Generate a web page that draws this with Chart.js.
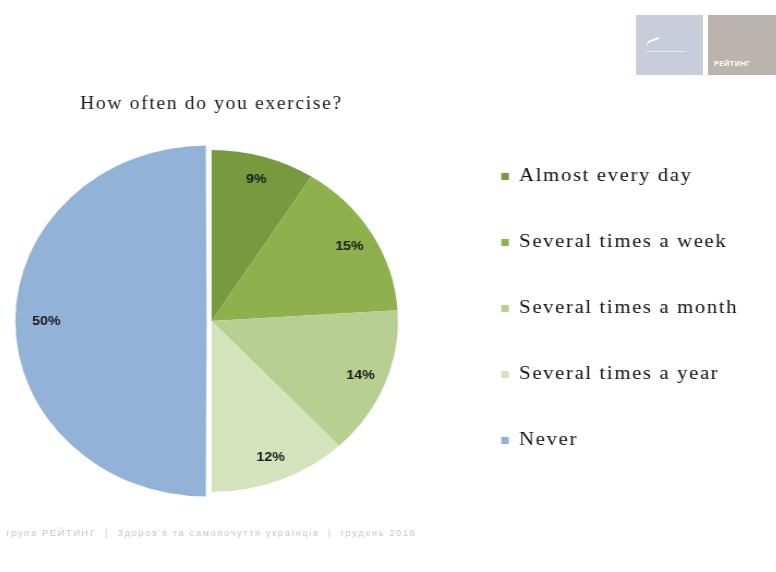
<!DOCTYPE html>
<html>
<head>
<meta charset="utf-8">
<script src="https://cdn.jsdelivr.net/npm/chart.js@4.4.1/dist/chart.umd.min.js"></script>
<style>
  html, body { margin: 0; padding: 0; background: #fff; }
  #page { position: relative; width: 776px; height: 572px; overflow: hidden; background: #fff; }
  #exercise { position: absolute; left: -26.8px; top: 0; transform: scaleX(1.09); transform-origin: 0 0; }
  .logo { position: absolute; top: 15px; height: 60px; }
  #logo1 { left: 636px; width: 67px; background: #c9cdd9; }
  #logo2 { left: 708px; width: 68px; background: #bab3ae; }
  #logo1 span { position: absolute; left: 10px; top: 24px; width: 14px; height: 3px; border-top: 2px solid #fff; border-radius: 8px 0 0 0; transform: rotate(-20deg); }
  #logo1 i { position: absolute; left: 10px; top: 36px; width: 40px; height: 1px; background: #e6e8ee; }
  #logo2 b { position: absolute; left: 6px; bottom: 8px; font: bold 7px "Liberation Sans", Arial, sans-serif; color: #fff; letter-spacing: 0.5px; }
</style>
</head>
<body>
<div id="page">
  <div class="logo" id="logo1"><span></span><i></i></div>
  <div class="logo" id="logo2"><b>РЕЙТИНГ</b></div>
  <canvas id="exercise" width="737" height="572"></canvas>
</div>
<script>
// answers, in the order they go round the pie from 12 o'clock
const categories = ['Almost every day', 'Several times a week', 'Several times a month', 'Several times a year', 'Never'];
const shares = [9, 15, 14, 12, 50];
const chartTitle = 'How often do you exercise?';
const footerText = 'група РЕЙТИНГ  |  Здоров\'я та самопочуття українців  |  грудень 2016';

const sliceColors = ['#789a3f', '#8eb14e', '#b7cf91', '#d5e3bd', '#93b2d8'];

// wide text like the slide
const spacing = {
  id: 'spacing',
  beforeUpdate(chart) { chart.ctx.letterSpacing = '1.5px'; },
  beforeDraw(chart) { chart.ctx.letterSpacing = '1.5px'; }
};

// percentage labels inside the slices
const pctLabels = {
  id: 'pctLabels',
  afterDatasetsDraw(chart) {
    const ctx = chart.ctx;
    const meta = chart.getDatasetMeta(0);
    ctx.save();
    ctx.letterSpacing = '0px';
    ctx.font = 'bold 13px "Liberation Sans", Arial, sans-serif';
    ctx.fillStyle = '#1a1a1a';
    ctx.textAlign = 'center';
    ctx.textBaseline = 'middle';
    meta.data.forEach((arc, i) => {
      const mid = (arc.startAngle + arc.endAngle) / 2;
      const off = (arc.options.offset || 0) / 4;
      const r = arc.outerRadius * 0.86 + off;
      ctx.fillText(shares[i] + '%', arc.x + Math.cos(mid) * r, arc.y + Math.sin(mid) * r);
    });
    ctx.restore();
  }
};

new Chart(document.getElementById('exercise').getContext('2d'), {
  type: 'pie',
  data: {
    labels: categories,
    datasets: [{
      data: shares,
      backgroundColor: sliceColors,
      borderWidth: 0,
      offset: [0, 0, 0, 0, 18]
    }]
  },
  options: {
    responsive: false,
    animation: false,
    layout: { padding: { left: 0, right: 25, top: 70, bottom: 25 } },
    plugins: {
      tooltip: { enabled: false },
      title: {
        display: true,
        text: chartTitle,
        fullSize: false,
        color: '#1a1a1a',
        font: { family: '"Liberation Serif", "Times New Roman", serif', size: 18, weight: 'normal' },
        padding: { top: 23.2, bottom: 26.2 }
      },
      subtitle: {
        display: true,
        text: footerText,
        position: 'bottom',
        fullSize: false,
        color: '#c4c4c4',
        font: { family: '"Liberation Sans", Arial, sans-serif', size: 8.5 },
        padding: { top: 28, bottom: 7.8 }
      },
      legend: {
        position: 'right',
        labels: {
          boxWidth: 7,
          boxHeight: 7,
          padding: 47,
          color: '#111',
          font: { family: '"Liberation Serif", "Times New Roman", serif', size: 19 }
        }
      }
    }
  },
  plugins: [spacing, pctLabels]
});
</script>
</body>
</html>
